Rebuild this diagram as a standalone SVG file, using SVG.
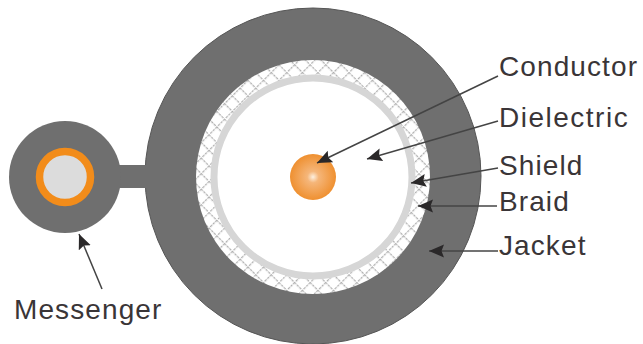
<svg xmlns="http://www.w3.org/2000/svg" width="643" height="344" viewBox="0 0 643 344">
<style>
.lbl{font-family:"Liberation Sans",Arial,sans-serif;font-size:28px;letter-spacing:1.1px;fill:#3a3537}
.ln{stroke:#444;stroke-width:1.5;fill:none;marker-end:url(#ah)}
.jk{fill:#6f6f6f}
</style>
<defs>
<marker id="ah" markerUnits="userSpaceOnUse" markerWidth="16" markerHeight="14" refX="15" refY="7" orient="auto"><path d="M15 7L0 .5L2.5 7L0 13.5Z" fill="#2a2829"/></marker>
<pattern id="mesh" width="11" height="11" patternUnits="userSpaceOnUse" patternTransform="rotate(45 313 177)">
<rect width="11" height="11" fill="#fff"/>
<path d="M0 .6H11M.6 0V11" stroke="#b0b0b0" stroke-width="1.3" stroke-dasharray="2.67 1"/>
</pattern>
<radialGradient id="cu" cx=".5" cy=".5" r=".5"><stop offset="0" stop-color="#fdf0e0"/><stop offset=".25" stop-color="#f5b67a"/><stop offset="1" stop-color="#ef9030"/></radialGradient>
</defs>
<rect width="643" height="344" fill="#fff"/>
<g id="jacket"><circle class="jk" cx="313" cy="176" r="168" stroke="#555" stroke-width="1"/></g>
<g id="messenger"><rect class="jk" x="115" y="165" width="35" height="23"/><circle class="jk" cx="65" cy="177" r="56"/><circle cx="65" cy="177" r="25.5" fill="#dcdcdc" stroke="#f28c1a" stroke-width="7.5"/></g>
<g id="braid"><circle cx="313" cy="177" r="117" fill="url(#mesh)"/></g>
<g id="shield"><circle cx="313" cy="177" r="99" fill="#fff" stroke="#d6d6d6" stroke-width="7"/></g>
<g id="conductor"><circle cx="313" cy="177" r="23" fill="url(#cu)"/></g>
<g id="connectors">
<path class="ln" d="M498 76L317 163"/>
<path class="ln" d="M498 121L367 159"/>
<path class="ln" d="M498 168L411 183"/>
<path class="ln" d="M497 206L418 206"/>
<path class="ln" d="M498 251L429 251"/>
<path class="ln" d="M102 289L79 234"/>
</g>
<g id="labels">
<text class="lbl" x="499" y="76">Conductor</text>
<text class="lbl" x="499" y="127" style="letter-spacing:1.5px">Dielectric</text>
<text class="lbl" x="499" y="175">Shield</text>
<text class="lbl" x="499" y="211">Braid</text>
<text class="lbl" x="499" y="255">Jacket</text>
<text class="lbl" x="14" y="319">Messenger</text>
</g>
</svg>
